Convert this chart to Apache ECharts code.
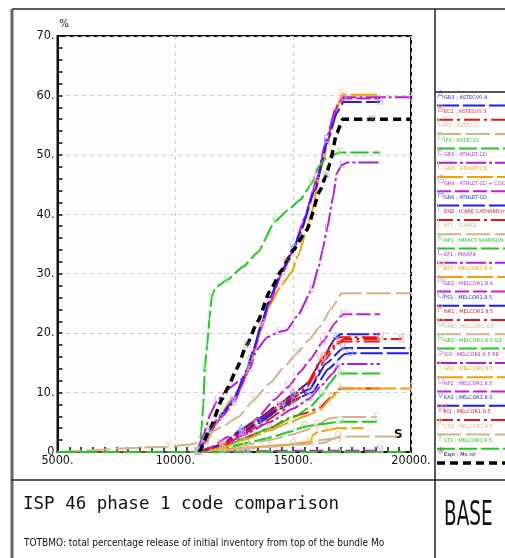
<!DOCTYPE html>
<html><head><meta charset="utf-8">
<script src="https://cdn.jsdelivr.net/npm/echarts@6/dist/echarts.min.js"></script>
<style>html,body{margin:0;padding:0;background:#fff}#c{width:505px;height:558px}</style>
</head><body><div id="c"></div>
<script>
// ---------- data ----------
const letters = ['A','B','C','D','E','F','G','H','I','J','K','L','M','N','O','P','Q','R','S','T','U','V','W','X','Y'];
const names = ['GR3 ; ASTECV0.4','EC1 ; ASTECV0.3','IP1 ; ASTECV1','IP3 ; ASTECV1','GR5 ; ATHLET-CD','GG5 ; ATHLET-CD',
  'GR4 ; ATHLET-CD + COCOSYS','GR6 ; ATHLET-CD','EN2 ; ICARE-CATHARE(mod)','KF1 ; ICARE2','NP1 ; IMPACT-SAMPSON','EF1 ; MAAP4',
  'EP1 ; MELCOR1.8.4','GE2 ; MELCOR1.8.4','PS1 ; MELCOR1.8.5','NR1 ; MELCOR1.8.5','UM1 ; MELCOR1.8.5','GE2 ; MELCOR1.8.5 G2',
  'SI3 ; MELCOR1.8.5 RE','GS1 ; MELCOR1.8.5','NF2 ; MELCOR1.8.5','KA1 ; MELCOR1.8.5','KI1 ; MELCOR1.8.5','CS1 ; MELCOR1.8.5','ST1 ; MELCOR1.8.5'];
const palette = ['#1e1ee6','#e81414','#d2b48c','#22c822','#b41ed2','#f5a000','#c81ec8'];
const lightPalette = ['#9a9aff','#ff9a9a','#e2ccaa','#9ae09a','#d79aeb','#f8d088','#e49ae4'];
const xTicks = [5000, 10000, 15000, 20000];
const yTicks = [0, 10, 20, 30, 40, 50, 60, 70];

const sA = [[5000,0],[11000,0],[12000,1.3],[12800,3.8],[13500,5.6],[14500,8.3],[15000,9.8],[15600,11.5],[16200,15.5],[16800,19.2],[17000,19.8],[18680,19.8]];
const sB = [[5000,0],[11000,0],[12000,1],[12800,3],[13500,4.8],[14500,7.5],[15000,9],[15600,11],[16300,16],[16900,18.5],[17200,19],[19600,19]];
const sC = [[5000,0],[11000,0],[12000,0.5],[13000,1.2],[14000,2],[15000,3],[15500,3.6],[16000,4.5],[16560,5.7],[17100,5.9],[18550,5.9]];
const sD = [[5000,0],[11000,0],[12000,0.6],[13000,1.5],[14000,2.4],[14860,3.4],[15500,4.3],[16200,4.7],[16800,5.0],[17000,5.1],[18550,5.1]];
const sE = [[5000,0],[10900,0],[11300,1.8],[11600,4],[12000,6],[12500,8.4],[13000,12.8],[13350,17],[13700,21.5],[14050,26],[14600,30.8],[15000,34],[15400,38.5],[15950,45],[16400,52.5],[16800,57.8],[17100,59.7],[20000,59.7]];
const sF = [[5000,0],[10900,0],[11300,1.5],[11700,4.5],[12000,6.5],[12300,8.5],[12700,10.5],[13100,13.5],[13500,19],[13880,23.9],[14500,28],[14940,30.3],[15200,33],[15710,39],[16210,48],[16630,54.7],[17060,60.1],[18680,60.1]];
const sG = [[5000,0],[10900,0],[11400,2.5],[11800,5.5],[12300,8],[12800,11],[13200,15.5],[13600,20.5],[14000,25],[14500,29.8],[15000,33.8],[15500,39.5],[16000,46],[16500,53.5],[16900,58.5],[17150,59.5],[18680,59.5]];
const sH = [[5000,0],[10900,0],[11300,2],[11610,4.8],[12000,6.5],[12460,8.7],[13030,13.8],[13310,17.2],[13660,21.7],[14020,26.1],[14580,31],[15000,34.2],[15290,36.8],[15930,44.1],[16430,51.9],[16850,57],[17130,58.9],[18680,58.9]];
const sI = [[5000,0],[11000,0],[12000,0.8],[12880,2.3],[14000,4],[14860,5.8],[15500,6.5],[16140,7.5],[16600,9.2],[16850,10.2],[17000,10.7],[18680,10.7]];
const sJ = [[5000,0],[11000,0],[12500,0.6],[14000,1],[15500,1.6],[16500,2.2],[17000,2.4]];
const sK = [[5000,0],[10900,0],[11000,0.3],[11100,3.5],[11190,8.2],[11250,14],[11350,18],[11450,22.5],[11540,26],[11650,27.2],[11750,27.8],[12180,28.9],[12880,31.2],[13500,33.6],[14230,38.8],[14800,40.8],[15290,42.4],[15790,45.2],[16070,48],[16430,49.6],[16990,50.4],[18680,50.4]];
const sL = [[5000,0],[10900,0],[11200,3],[11500,6.5],[11750,8.5],[12200,10.5],[12800,12.2],[13170,14],[13450,17.2],[13900,19.3],[14400,20.2],[14720,20.5],[15200,23],[15790,27.3],[16070,31],[16250,34],[16430,37.4],[16700,43],[16850,46.9],[17060,48.3],[17300,48.7],[18680,48.7]];
const sM = [[5000,0],[11000,0],[12000,0.4],[13000,0.7],[14000,1],[14860,1.2],[15710,1.7],[15850,2.9],[16070,3.4],[16500,3.7],[16850,4],[17980,4]];
const sN = [[5000,0],[11000,0],[13000,0.1],[15000,0.2],[17000,0.2],[18680,0.2]];
const sO = [[5000,0],[11000,0],[12000,1],[12800,3.2],[13500,4.8],[14500,7.3],[15000,8.7],[15800,10],[16500,14],[17200,16.5],[17400,16.6],[20000,16.6]];
const sP = [[5000,0],[11000,0],[12000,1],[12800,2.8],[13500,4.3],[14500,6.8],[15000,8.4],[15700,10.5],[16350,15.5],[16900,18.2],[17100,18.6],[18680,18.6]];
const sQ = [[5000,0],[11000,0],[12000,0.3],[13000,0.6],[14000,0.9],[15000,1.2],[16280,1.5],[16700,2.2],[16920,2.6],[19400,2.6]];
const sR = [[5000,0],[11000,0],[12000,0.8],[12880,2.2],[14000,4],[15000,5.8],[15700,7.5],[16200,9.5],[16560,11.6],[16850,13],[17000,13.2],[18680,13.2]];
const sS = [[5000,0],[11000,0],[12000,1],[12880,2.8],[14000,5],[15000,7.3],[15700,9],[16200,11.2],[16700,13.3],[16900,14.5],[17050,14.8],[18680,14.8]];
const sT = [[5000,0],[11000,0],[12000,0.7],[12880,2],[14000,3.6],[14860,5],[15500,6],[16140,7.1],[16600,9],[16850,10],[17000,10.7],[20000,10.7]];
const sU = [[5000,0],[10900,0],[11500,0.8],[12200,2.5],[12880,3.2],[13500,5.8],[14200,8.8],[14800,11],[15300,13.5],[15710,15.5],[16250,18.5],[16780,21.7],[17000,22.8],[17150,23.2],[18680,23.2]];
const sV = [[5000,0],[11000,0],[12000,1.2],[12800,3.5],[13500,5.2],[14500,7.8],[15000,9.3],[15700,10.6],[16400,14.9],[17100,17.4],[17300,17.5],[20000,17.5]];
const sW = [[5000,0],[11000,0],[12000,1.2],[12800,3.4],[13500,5.4],[14500,8],[15000,9.5],[15600,11.6],[16200,15.6],[16800,19],[17000,19.3],[18680,19.3]];
const sX = [[5000,0],[9700,0.9],[10500,1.2],[11050,1.6],[11470,3.2],[12000,4.3],[12670,5.9],[13300,8.6],[14020,11.6],[14600,14.2],[15150,16.6],[15650,18.8],[16140,21.1],[16600,24],[17060,26.7],[20000,26.7]];
const sY = [[5000,0],[11000,0],[14000,0],[17000,0],[20000,0]];
const expt = [[11000,0],[11050,0.3],[11470,4],[12000,9],[12250,11],[12600,14],[13030,18],[13500,22],[14000,27],[14500,30.5],[14750,32.3],[15000,34],[15570,37.3],[16140,44],[16390,46.5],[16560,48.6],[16850,53.7],[17110,56],[18350,56],[20000,56]];

const seriesData = [sA,sB,sC,sD,sE,sF,sG,sH,sI,sJ,sK,sL,sM,sN,sO,sP,sQ,sR,sS,sT,sU,sV,sW,sX,sY];
const dashes = [[22,4],[16,4,3,4],[24,5],[18,4],[20,3,3,3],[26,4],[14,4]];

// ---------- build ----------
const series = [];
const graphic = [];
seriesData.forEach((d, i) => {
  const col = palette[i % 7], lc = lightPalette[i % 7], dash = dashes[i % 7];
  series.push({type:'line', data:d, symbol:'none', smooth:0.15, smoothMonotone:'x', animation:false,
    lineStyle:{color:col, width:2, type:dash}, z:2});
  const pts = d.filter((p, k) => k > 0 && (k + i) % 3 === 0);
  series.push({type:'scatter', data:pts, symbolSize:1, itemStyle:{color:'rgba(0,0,0,0)'}, silent:true, z:3,
    label:{show:true, position:'inside', formatter:letters[i], color:lc, fontSize:10, fontFamily:'DejaVu Sans'}});
  const ry = 98 + i * 14.3;
  graphic.push({type:'text', left:437, top:ry - 8, style:{text:letters[i], fill:lc, font:'10px DejaVu Sans'}});
  graphic.push({type:'text', left:444, top:ry - 3, style:{text:names[i], fill:col, font:'5px DejaVu Sans'}});
  graphic.push({type:'line', shape:{x1:437, y1:ry + 7.5, x2:505, y2:ry + 7.5}, style:{stroke:col, lineWidth:2, lineDash:dash}});
});
series.push({type:'line', data:expt, symbol:'none', smooth:0.15, smoothMonotone:'x', z:4,
  lineStyle:{color:'#000', width:3.5, type:[8,5]}});
series.push({type:'scatter', data:expt.filter((p,k)=>k===2||k===6||k===10||k===14||k===18), symbolSize:1,
  itemStyle:{color:'rgba(0,0,0,0)'}, silent:true, z:5,
  label:{show:true, position:'inside', formatter:'※', color:'#777', fontSize:10}});
graphic.push({type:'text', left:437, top:447, style:{text:'※', fill:'#777', font:'9px DejaVu Sans'}});
graphic.push({type:'text', left:444, top:452, style:{text:'Expt - Mo rel', fill:'#000', font:'5px DejaVu Sans'}});
graphic.push({type:'line', shape:{x1:437, y1:463, x2:505, y2:463}, style:{stroke:'#000', lineWidth:3.5, lineDash:[8,5]}});

// frame lines
graphic.push({type:'line', shape:{x1:12, y1:9, x2:505, y2:9}, style:{stroke:'#222', lineWidth:1.5}});
graphic.push({type:'line', shape:{x1:12, y1:9, x2:12, y2:558}, style:{stroke:'#666', lineWidth:3}});
graphic.push({type:'line', shape:{x1:435, y1:9, x2:435, y2:558}, style:{stroke:'#222', lineWidth:1.5}});
graphic.push({type:'line', shape:{x1:12, y1:480, x2:505, y2:480}, style:{stroke:'#222', lineWidth:1.5}});
graphic.push({type:'line', shape:{x1:435, y1:92, x2:505, y2:92}, style:{stroke:'#222', lineWidth:1.5}});
// titles
graphic.push({type:'text', left:23, top:495, style:{text:'ISP 46 phase 1 code comparison', fill:'#111', font:'17.5px DejaVu Sans Mono'}});
graphic.push({type:'text', left:24, top:538, style:{text:'TOTBMO: total percentage release of initial inventory from top of the bundle Mo', fill:'#111', font:'10px DejaVu Sans Condensed'}});
graphic.push({type:'text', x:444, y:500, scaleX:0.62, style:{text:'BASE', fill:'#111', font:'33px DejaVu Sans Condensed'}});
graphic.push({type:'text', left:394, top:429, style:{text:'S', fill:'#111', font:'bold 12px DejaVu Sans'}});

const chart = echarts.init(document.getElementById('c'), null, {renderer:'canvas'});
chart.setOption({
  animation:false,
  backgroundColor:'#fff',
  grid:{left:57.5, right:94, top:36, bottom:106, show:true, borderColor:'#111', borderWidth:2, backgroundColor:'#fdfdfd'},
  xAxis:{type:'value', min:xTicks[0], max:xTicks[xTicks.length-1], interval:5000,
    axisLine:{lineStyle:{color:'#111', width:2}},
    axisTick:{inside:true, length:5, lineStyle:{color:'#111', width:1.5}},
    minorTick:{show:true, splitNumber:10, length:5, lineStyle:{color:'#111', width:1.5}},
    splitLine:{show:true, lineStyle:{color:'#ccc', type:[4,4], width:1}},
    axisLabel:{margin:2, formatter:v=>v+'.', color:'#111', fontSize:12.5, fontFamily:'DejaVu Sans Condensed'}},
  yAxis:{type:'value', min:yTicks[0], max:yTicks[yTicks.length-1], interval:10,
    name:'%', nameLocation:'end', nameGap:3, nameTextStyle:{align:'left', color:'#111', fontSize:11, fontFamily:'DejaVu Sans Condensed', padding:[0,0,0,2]},
    axisLine:{lineStyle:{color:'#111', width:2}},
    axisTick:{inside:true, length:5, lineStyle:{color:'#111', width:1.5}},
    minorTick:{show:true, splitNumber:5, length:5, lineStyle:{color:'#111', width:1.5}},
    splitLine:{show:true, lineStyle:{color:'#ccc', type:[4,4], width:1}},
    axisLabel:{margin:3, formatter:v=>v===0?'0':v+'.', color:'#111', fontSize:12.5, fontFamily:'DejaVu Sans Condensed'}},
  series:series,
  graphic:graphic
});
</script></body></html>
